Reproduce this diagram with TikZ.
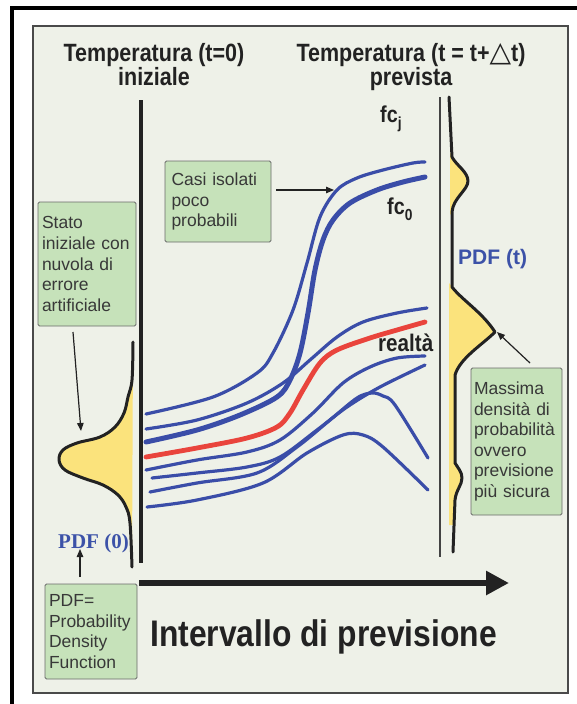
\documentclass[tikz,border=0pt]{standalone}
\usepackage{fontspec}
\setmainfont{Liberation Sans}
\newfontfamily\condsans[FakeStretch=0.86]{Liberation Sans}
\newfontfamily\symfont{DejaVu Sans}
\newfontfamily\serifb{Liberation Serif}
\usetikzlibrary{arrows.meta,calc}
\definecolor{panelbg}{HTML}{EEF1E8}
\definecolor{boxgreen}{HTML}{C6E2BA}
\definecolor{boxline}{HTML}{6A6A6A}
\definecolor{pdfyellow}{HTML}{FBE37C}
\definecolor{curveblue}{HTML}{3A4DA8}
\definecolor{curvered}{HTML}{E9443C}
\definecolor{txt}{HTML}{222222}
\definecolor{labblue}{HTML}{3C52A8}
\hyphenpenalty=10000
\exhyphenpenalty=10000
\begin{document}
\begin{tikzpicture}[x=1pt,y=-1pt,
  title/.style={font=\condsans\bfseries\fontsize{25}{22.5}\selectfont, text=txt, inner sep=0pt, align=center, anchor=base},
  lab/.style={font=\condsans\bfseries\fontsize{23}{25}\selectfont, text=txt, inner sep=0pt, anchor=base west},
  note/.style={draw=boxline, fill=boxgreen, line width=0.8pt, rounded corners=1.5pt,
    font=\fontsize{17.5}{20.6}\selectfont, align=left, inner ysep=0pt, text=txt!90!white},
  arr/.style={draw=txt, line width=1.2pt, -{Triangle[length=8pt,width=6.5pt]}},
  bl/.style={draw=curveblue, line width=3.2pt, line cap=round, line join=round},
  blthick/.style={draw=curveblue, line width=5pt, line cap=round, line join=round},
  rd/.style={draw=curvered, line width=4.8pt, line cap=round, line join=round},
  pdfcurve/.style={draw=txt, line width=3pt, line cap=round, line join=round}
]
\useasboundingbox (0,0) rectangle (577,704);
\fill[white] (0,0) rectangle (577,704);
% outer frame
\draw[line width=4pt, black] (10,8) -- (577,8);
\draw[line width=4pt, black] (12,6) -- (12,704);
% inner panel
\filldraw[fill=panelbg, draw=boxline!70!black, line width=1.4pt] (33,26) rectangle (568,693);

% titles
\node[title] (t0) at (154,85.5) {Temperatura (t=0)\\iniziale};
\node[title] (tt) at (411,85.5) {Temperatura (t = t+{\symfont\fontsize{28}{22}\selectfont △}t)\\prevista};

% axes
\draw[line width=4pt, txt] (141,100) -- (141,563);
\draw[line width=1.3pt, txt!85!white] (440,97) -- (440,557);

% left PDF
\fill[pdfyellow] plot[smooth, tension=0.6] coordinates {(133,342) (132,380) (128,397) (124,413) (115,427) (100,437) (77,443) (63,450) (59,460) (65,470) (83,478) (103,485) (118,495) (126,507) (130,523) (132,567)} -- cycle;
\draw[pdfcurve] plot[smooth, tension=0.6] coordinates {(133,342) (132,380) (128,397) (124,413) (115,427) (100,437) (77,443) (63,450) (59,460) (65,470) (83,478) (103,485) (118,495) (126,507) (130,523) (132,567)};

% right PDF
\fill[pdfyellow] (450,152) -- (452,157) .. controls (456,165) and (468,172) .. (468,181) .. controls (468,190) and (453,198) .. (452,212) -- (450,215) -- cycle;
\fill[pdfyellow] (449,283) -- (452,287) .. controls (462,300) and (482,312) .. (495,332) .. controls (482,345) and (460,358) .. (455,375) -- (455,463) .. controls (458,468) and (462,472) .. (462,478) .. controls (462,485) and (456,490) .. (455,500) -- (453,525) -- (449,525) -- cycle;
\draw[pdfcurve] (449,97) -- (452,157) .. controls (456,165) and (468,172) .. (468,181) .. controls (468,190) and (453,198) .. (452,212) -- (452,287) .. controls (462,300) and (482,312) .. (495,332) .. controls (482,345) and (460,358) .. (455,375) -- (455,463) .. controls (458,468) and (462,472) .. (462,478) .. controls (462,485) and (456,490) .. (455,500) -- (453,552);

% forecast curves
\draw[bl] plot[smooth, tension=0.55] coordinates {(146,414) (213,397) (257,373) (273,353) (293,310) (307,263) (320,217) (337,190) (357,178) (383,170) (413,163) (425,162)};
\draw[bl] plot[smooth, tension=0.55] coordinates {(146,429) (197,420) (247,403) (283,383) (310,360) (337,337) (363,322) (397,313) (427,308)};
\draw[bl] plot[smooth, tension=0.55] coordinates {(146,470) (197,460) (247,452) (280,440) (313,413) (343,383) (370,367) (397,358) (425,356)};
\draw[bl] plot[smooth, tension=0.55] coordinates {(152,478) (197,473) (247,467) (280,457) (317,430) (347,407) (380,387) (425,365)};
\draw[bl] plot[smooth, tension=0.55] coordinates {(150,492) (197,483) (257,473) (297,447) (330,420) (357,398) (372,393) (383,396) (395,405) (428,458)};
\draw[bl] plot[smooth, tension=0.55] coordinates {(147,507) (197,500) (263,483) (307,453) (343,435) (363,435) (383,447) (428,490)};
\draw[blthick] plot[smooth, tension=0.55] coordinates {(146,442) (197,430) (240,415) (277,397) (290,380) (300,353) (308,313) (315,270) (323,240) (333,220) (350,203) (377,190) (403,182) (425,177)};
\draw[rd] plot[smooth, tension=0.55] coordinates {(146,457) (197,448) (247,438) (277,427) (290,413) (303,390) (320,363) (337,350) (370,338) (397,330) (425,322)};

% curve labels
\node[lab] (fcj) at (380,122) {fc\raisebox{-6pt}{\fontsize{16}{16}\selectfont j}};
\node[lab] (fc0) at (387,214) {fc\raisebox{-6pt}{\fontsize{16}{16}\selectfont 0}};
\node[lab, font=\condsans\bfseries\fontsize{24}{26}\selectfont] (real) at (378,351) {realtà};
\node[anchor=base west, inner sep=0pt, text=labblue, font=\bfseries\fontsize{21}{24}\selectfont] (pdft) at (458,264) {PDF (t)};
\node[anchor=base west, inner sep=0pt, text=labblue, font=\serifb\bfseries\fontsize{21}{24}\selectfont] (pdf0) at (58,548) {PDF (0)};

% boxes
\node[note, text width=90pt, inner xsep=4pt, minimum height=124pt] (box1) at (87,264) {Stato\\iniziale con\\nuvola di\\errore\\artificiale};
\node[note, text width=93pt, inner xsep=6.5pt, minimum height=81pt] (box2) at (218,201.5) {Casi isolati\\poco\\probabili};
\node[note, text width=85pt, inner xsep=3pt, minimum height=147pt] (box3) at (516.5,441.5) {Massima\\densità di\\probabilità\\ovvero\\previsione\\più sicura};
\node[note, text width=84pt, inner xsep=4pt, minimum height=95pt] (box4) at (91,631.5) {PDF=\\Probability\\Density\\Function};

% box arrows
\coordinate (a1s) at (73,332);
\coordinate (a1e) at (81,431);
\draw[arr] (a1s) -- (a1e);
\coordinate (a2s) at (276,190);
\coordinate (a2e) at (334,190);
\draw[arr] (a2s) -- (a2e);
\coordinate (a3s) at (530,363);
\coordinate (a3e) at (497,332);
\draw[arr] (a3s) -- (a3e);
\coordinate (a4s) at (80,577);
\coordinate (a4e) at (80,549);
\draw[arr] (a4s) -- (a4e);

% time axis
\coordinate (axS) at (139,583);
\coordinate (axE) at (509,583);
\draw[txt, line width=6.5pt, -{Triangle[length=23pt,width=23pt]}] (axS) -- (axE);
\node[anchor=base west, inner sep=0pt, text=txt, font=\condsans\bfseries\fontsize{37}{40}\selectfont] (interv) at (150,646) {Intervallo di previsione};
\end{tikzpicture}
\end{document}
